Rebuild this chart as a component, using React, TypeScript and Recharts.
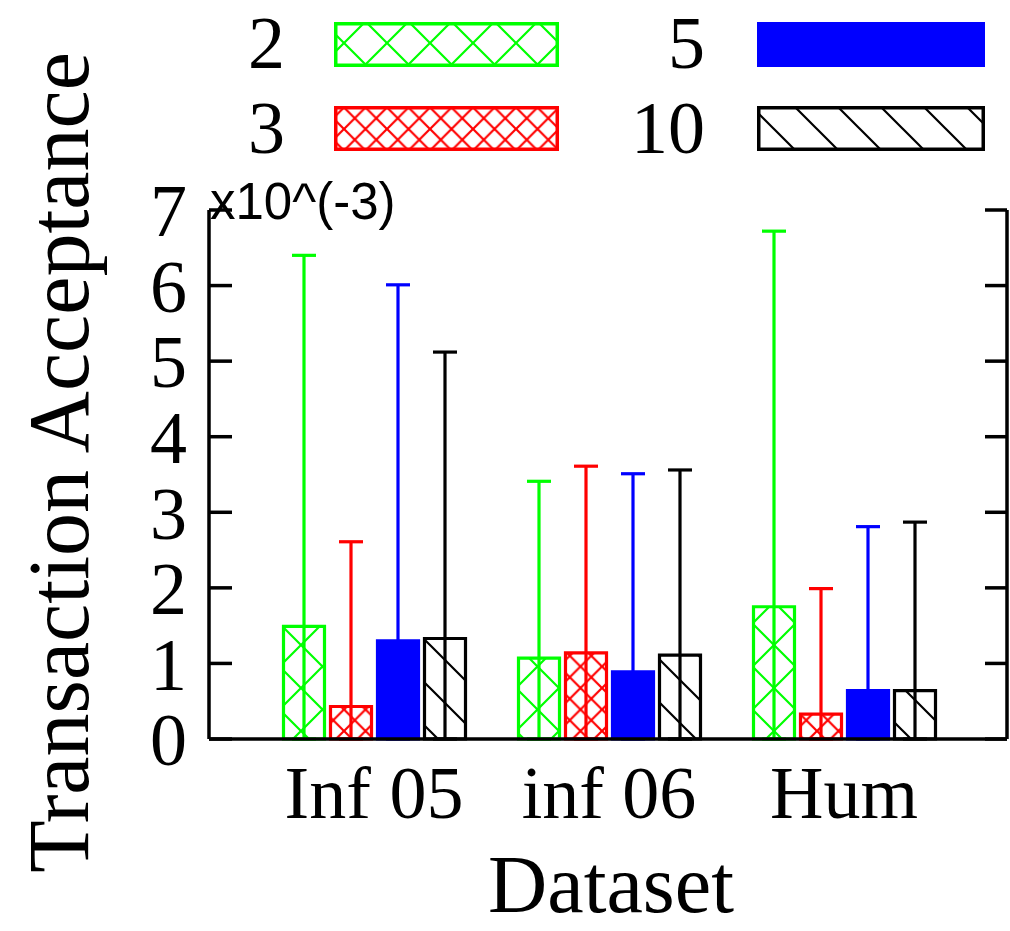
import React from 'react';
import { BarChart, Bar, XAxis, YAxis, ErrorBar, Legend } from 'recharts';

const categories = ['Inf 05', 'inf 06', 'Hum'];
const values2 = [1.49, 1.07, 1.75];
const high2 = [6.4, 3.41, 6.72];
const values3 = [0.43, 1.14, 0.33];
const high3 = [2.61, 3.61, 1.99];
const values5 = [1.3, 0.89, 0.64];
const high5 = [6.01, 3.51, 2.81];
const values10 = [1.33, 1.11, 0.64];
const high10 = [5.12, 3.56, 2.87];
const seriesNames = ['2', '3', '5', '10'];
const yTicks = [0, 1, 2, 3, 4, 5, 6, 7];

const SERIF = '"Liberation Serif", "Times New Roman", serif';
const SANS = '"Liberation Sans", Arial, sans-serif';

const series = [
  { key: 's2', name: seriesNames[0], values: values2, highs: high2, color: '#00ff00', pat: 'green' },
  { key: 's3', name: seriesNames[1], values: values3, highs: high3, color: '#ff0000', pat: 'red' },
  { key: 's5', name: seriesNames[2], values: values5, highs: high5, color: '#0000ff', pat: null },
  { key: 's10', name: seriesNames[3], values: values10, highs: high10, color: '#000000', pat: 'black' },
];

const data = categories.map((c, i) => {
  const row: any = { category: c };
  series.forEach((s) => {
    row[s.key] = s.values[i];
    row[s.key + 'Err'] = [s.values[i], s.highs[i] - s.values[i]];
  });
  return row;
});

const fillOf = (s: any, prefix: string) => (s.pat ? `url(#${prefix}-${s.pat})` : s.color);

const PatternDefs = ({ prefix }: { prefix: string }) => (
  <defs>
    <pattern id={`${prefix}-green`} patternUnits="userSpaceOnUse" width={43} height={43}>
      <rect width={43} height={43} fill="#fff" />
      <path d="M0,0 L43,43 M43,0 L0,43" stroke="#00ff00" strokeWidth={2.2} />
    </pattern>
    <pattern id={`${prefix}-red`} patternUnits="userSpaceOnUse" width={21.5} height={21.5}>
      <rect width={21.5} height={21.5} fill="#fff" />
      <path d="M0,0 L21.5,21.5 M21.5,0 L0,21.5" stroke="#ff0000" strokeWidth={2.2} />
    </pattern>
    <pattern id={`${prefix}-black`} patternUnits="userSpaceOnUse" width={43} height={43}>
      <rect width={43} height={43} fill="#fff" />
      <path d="M-5,-5 L48,48 M-10,33 L10,53 M33,-10 L53,10" stroke="#000" strokeWidth={2.2} />
    </pattern>
  </defs>
);

const legendLabelRight = [285, 705];
const legendBoxX = [334, 757];
const legendBoxW = [225, 228];
const legendBoxY = [22, 106];
const legendBoxH = 45;
const legendBaseline = [68, 153];

const LegendContent = () => (
  <svg width={1010} height={170} style={{ display: 'block' }}>
    <PatternDefs prefix="lg" />
    {series.map((s, i) => {
      const col = Math.floor(i / 2);
      const row = i % 2;
      const sw = s.pat ? 3.5 : 0;
      return (
        <g key={s.key}>
          <text
            x={legendLabelRight[col]}
            y={legendBaseline[row]}
            textAnchor="end"
            fontSize={74}
            fontFamily={SERIF}
            fill="#000"
          >
            {s.name}
          </text>
          <rect
            x={legendBoxX[col] + sw / 2}
            y={legendBoxY[row] + sw / 2}
            width={legendBoxW[col] - sw}
            height={legendBoxH - sw}
            fill={fillOf(s, 'lg')}
            stroke={s.color}
            strokeWidth={sw}
          />
        </g>
      );
    })}
  </svg>
);

// y-axis title plus the exponent note at the top-left of the plot
const YTitle = (props: any) => {
  const vb = props.viewBox || { x: 0, y: 210, width: 209, height: 529 };
  const cx = vb.x + 88;
  const cy = vb.y + vb.height / 2 - 12;
  return (
    <g>
      <text
        x={0}
        y={0}
        transform={`translate(${cx}, ${cy}) rotate(-90)`}
        textAnchor="middle"
        fontSize={86}
        fontFamily={SERIF}
        fill="#000"
      >
        Transaction Acceptance
      </text>
      <text x={vb.x + vb.width + 1} y={vb.y + 9} fontSize={51} fontFamily={SANS} fill="#000">
        x10^(-3)
      </text>
    </g>
  );
};

const XTitle = (props: any) => {
  const vb = props.viewBox || { x: 209, y: 739, width: 798, height: 192 };
  return (
    <text
      x={vb.x + vb.width / 2 + 3}
      y={vb.y + 173}
      textAnchor="middle"
      fontSize={82}
      fontFamily={SERIF}
      fill="#000"
    >
      Dataset
    </text>
  );
};

const TICK_MARGIN = 22;
const INNER_TICK = 23;

// left tick: label outside plus inward tick mark starting at the axis line
const LeftTick = (props: any) => {
  const { x, y, payload } = props;
  const axisX = x + TICK_MARGIN;
  return (
    <g>
      <line x1={axisX} y1={y} x2={axisX + INNER_TICK} y2={y} stroke="#000" strokeWidth={3.5} />
      <text
        x={x}
        y={y}
        dy="0.355em"
        textAnchor="end"
        fontSize={74}
        fontFamily={SERIF}
        fill="#000"
      >
        {payload.value}
      </text>
    </g>
  );
};

const NoTick = () => <g />;

export default function App() {
  return (
    <div style={{ position: 'absolute', left: 0, top: 0, width: 1010, height: 931, background: '#fff' }}>
      <BarChart
        width={1010}
        height={931}
        data={data}
        margin={{ top: 210, right: 3, bottom: 0, left: 0 }}
        barGap={6}
      >
        <PatternDefs prefix="ch" />
        {series.map((s) => (
          <Bar
            key={s.key}
            dataKey={s.key}
            name={s.name}
            yAxisId="left"
            barSize={41}
            fill={fillOf(s, 'ch')}
            stroke={s.color}
            strokeWidth={3.2}
            isAnimationActive={false}
          >
            <ErrorBar
              dataKey={s.key + 'Err'}
              direction="y"
              width={12}
              stroke={s.color}
              strokeWidth={3.2}
              isAnimationActive={false}
            />
          </Bar>
        ))}
        <XAxis
          dataKey="category"
          height={192}
          padding={{ left: 47.5, right: 45.5 }}
          tickLine={false}
          tickSize={0}
          tickMargin={26}
          interval={0}
          axisLine={{ stroke: '#000', strokeWidth: 3.5 }}
          tick={{ fontSize: 74, fontFamily: SERIF, fill: '#000' }}
          label={{ content: XTitle }}
        />
        <YAxis
          yAxisId="left"
          width={209}
          domain={[0, 7]}
          ticks={yTicks}
          interval={0}
          tickLine={false}
          tickSize={0}
          tickMargin={TICK_MARGIN}
          axisLine={{ stroke: '#000', strokeWidth: 3.5 }}
          tick={<LeftTick />}
          label={{ content: YTitle }}
        />
        <YAxis
          yAxisId="right"
          orientation="right"
          mirror
          type="number"
          allowDataOverflow
          domain={[0, 7]}
          ticks={yTicks}
          interval={0}
          tick={<NoTick />}
          tickSize={22}
          tickLine={{ stroke: '#000', strokeWidth: 3.5 }}
          axisLine={{ stroke: '#000', strokeWidth: 3.5 }}
        />
        <Legend
          layout="vertical"
          align="center"
          verticalAlign="middle"
          wrapperStyle={{ position: 'absolute', left: 0, top: 0, width: 1010, height: 170 }}
          content={LegendContent}
        />
      </BarChart>
    </div>
  );
}
